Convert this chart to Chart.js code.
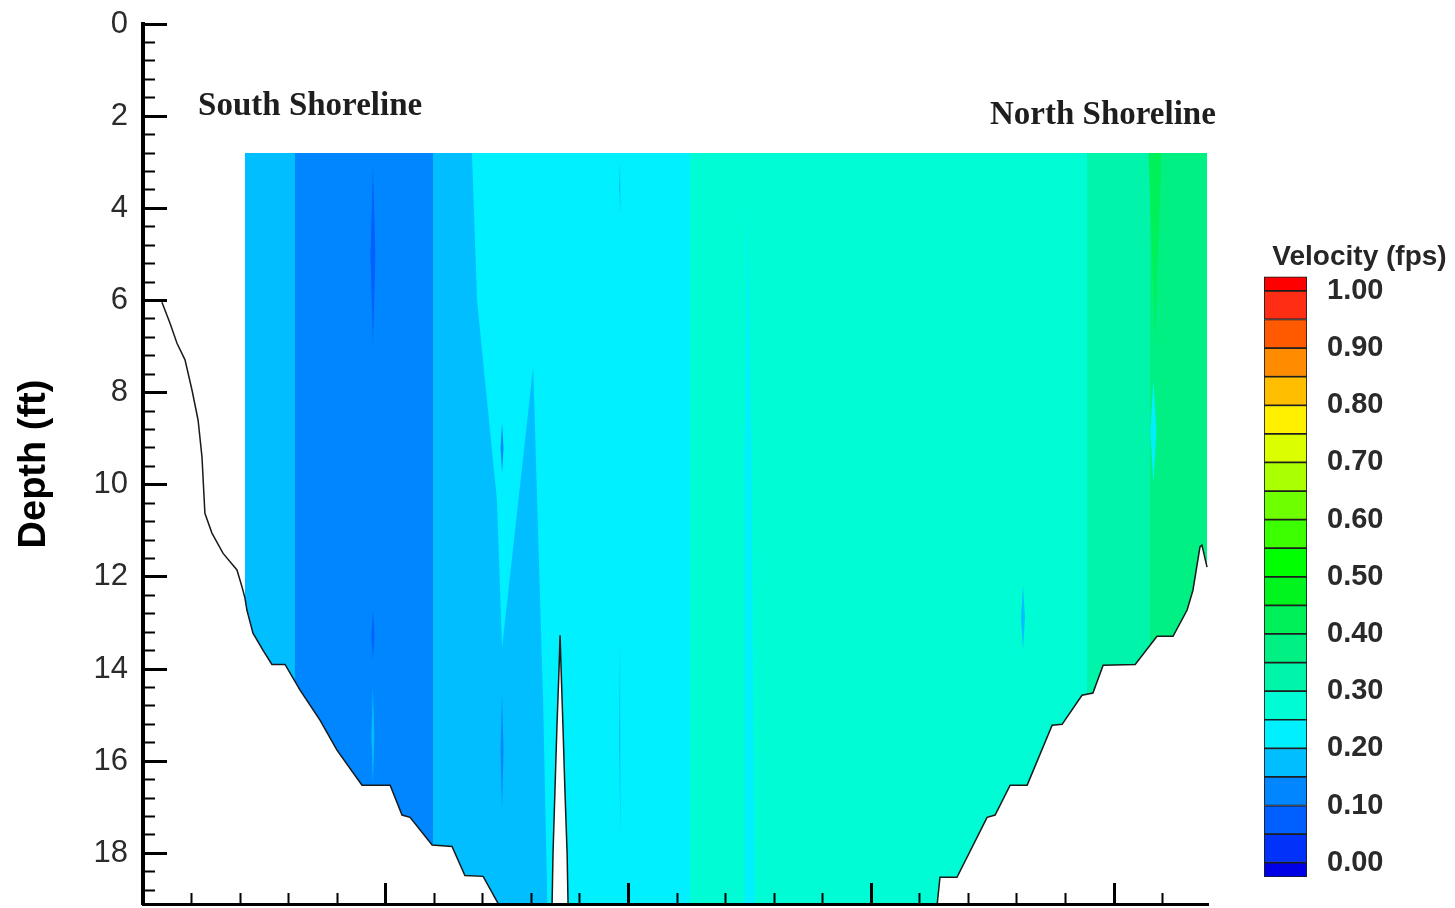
<!DOCTYPE html>
<html>
<head>
<meta charset="utf-8">
<script src="https://cdn.jsdelivr.net/npm/chart.js@4.4.1/dist/chart.umd.min.js"></script>
<style>
  html, body { margin: 0; padding: 0; background: #fff; overflow: hidden; }
  #wrap { position: relative; width: 1455px; height: 908px; }
  #section { position: absolute; left: 0; top: 0; }
  #colorbar { position: absolute; left: 1255px; top: 230px; }
</style>
</head>
<body>
<div id="wrap">
  <canvas id="section" width="1455" height="908"></canvas>
  <canvas id="colorbar" width="200" height="678"></canvas>
</div>
<script>
// axis extents (station in ft from the left axis, depth in ft)
const stationMax = 438.7;
const depthMax = 19.1;

// riverbed profile, south -> north
const bedStation = [7.8, 11.1, 14.0, 17.3, 20.2, 22.7, 24.3, 25.5, 28.4, 33.0,
  38.7, 40.8, 42.0, 42.8, 45.3, 49.4, 53.1, 58.5, 64.7, 72.9,
  79.9, 90.2, 101.8, 106.7, 110.0, 119.1, 127.3, 132.6, 140.1, 146.2, 151.2,
  167.7, 168.5, 168.9, 169.7, 170.5, 171.4, 171.8, 172.2, 173.0, 173.8, 174.7, 175.1, 175.9,
  324.2, 327.1, 328.3, 335.3, 347.7, 351.0, 357.2, 364.2, 374.5, 378.6,
  386.8, 391.3, 395.5, 408.7, 417.7, 424.3, 430.1, 432.5, 435.4, 436.2, 438.3];
const bedDepth = [6.04, 6.49, 6.93, 7.29, 7.95, 8.60, 9.40, 10.62, 11.05, 11.49,
  11.85, 12.22, 12.46, 12.72, 13.22, 13.59, 13.90, 13.90, 14.46, 15.11,
  15.76, 16.52, 16.52, 17.17, 17.22, 17.82, 17.85, 18.48, 18.50, 19.08, 19.70,
  19.70, 19.13, 18.00, 16.63, 15.26, 13.96, 13.27, 13.96, 15.26, 16.63, 18.00, 19.13, 19.70,
  19.70, 19.13, 18.52, 18.52, 17.22, 17.17, 16.52, 16.52, 15.22, 15.20,
  14.57, 14.52, 13.92, 13.90, 13.29, 13.29, 12.72, 12.29, 11.35, 11.31, 11.79];

// measured part of the section
const waterTop = 2.8;
const waterLeft = 42.0;
const waterRight = 438.3;
const groundFloor = 20;

// vertical velocity bands (fps)
const bandEdges = [42.0, 62.6, 119.5, 135.5, 225.3, 388.9, 414.8, 438.3];
const bandVelocity = [0.17, 0.12, 0.17, 0.22, 0.27, 0.32, 0.37];

// slower wedge near the middle
const wedgeStation = [135.5, 137.6, 145.8, 147.9, 160.7, 164.8, 166.8, 134.7];
const wedgeDepth = [2.80, 6.00, 10.33, 13.55, 7.45, 14.68, 19.70, 19.70];
const wedgeVelocity = 0.17;

// faster green streak near the north bank
const greenStation = [414.2, 419.6, 418.4, 416.9, 415.4];
const greenDepth = [2.80, 2.80, 4.60, 6.90, 4.60];
const greenVelocity = 0.42;

// lighter strip in the teal band
const stripStation = [249.0, 250.6, 252.0, 247.6, 247.9];
const stripDepth = [4.04, 9.25, 19.70, 19.70, 9.25];
const stripVelocity = 0.22;

// thin streaks
const streakStation = [94.7, 94.7, 94.7, 416.2, 196.5, 196.5, 362.5, 147.9, 147.9];
const streakTop = [3.06, 12.72, 14.39, 7.73, 2.95, 13.37, 12.18, 8.66, 14.52];
const streakBottom = [6.97, 13.81, 16.48, 9.97, 4.15, 17.72, 13.59, 9.75, 17.06];
const streakWidth = [2.0, 1.2, 1.2, 2.5, 0.8, 0.8, 1.6, 1.2, 1.2];
const streakVelocity = [0.07, 0.07, 0.17, 0.22, 0.17, 0.17, 0.17, 0.12, 0.12];

// bank labels
const shoreNames = ['South Shoreline', 'North Shoreline'];
const shoreStation = [22.7, 348.9];
const shoreDepth = [1.98, 2.16];

// colour key, bottom (below 0) to top (above 1)
const keyEdges = [-0.025, 0.00, 0.05, 0.10, 0.15, 0.20, 0.25, 0.30, 0.35, 0.40, 0.45,
  0.50, 0.55, 0.60, 0.65, 0.70, 0.75, 0.80, 0.85, 0.90, 0.95, 1.00, 1.025];
const keyColors = ['#0000e6', '#0032fa', '#005fff', '#0087ff', '#00beff', '#00f0ff',
  '#00fcd4', '#00f5aa', '#00f084', '#00f05a', '#00f51e', '#00ff00', '#3cff00',
  '#6eff00', '#aaff00', '#dcff00', '#fff000', '#ffbe00', '#ff8c00', '#ff5a00',
  '#ff2d14', '#ff0000'];

Chart.defaults.font.family = "'Liberation Sans', Arial, sans-serif";

const colourOf = v => keyColors[v < 0 ? 0 : v > 1 ? 21 : 1 + Math.min(19, Math.floor(v / 0.05))];
const pts = (xs, ys) => xs.map((s, i) => ({x: s, y: ys[i]}));

// hard-edged horizontal gradient for the vertical bands
function bandGradient(context) {
  const chart = context.chart;
  const x = chart.scales.x;
  if (!chart.chartArea || !x) return colourOf(bandVelocity[0]);
  const x0 = x.getPixelForValue(bandEdges[0]);
  const x1 = x.getPixelForValue(bandEdges[bandEdges.length - 1]);
  const g = chart.ctx.createLinearGradient(x0, 0, x1, 0);
  const at = s => Math.min(1, Math.max(0, (x.getPixelForValue(s) - x0) / (x1 - x0)));
  bandVelocity.forEach((v, i) => {
    g.addColorStop(at(bandEdges[i]), colourOf(v));
    g.addColorStop(at(bandEdges[i + 1]), colourOf(v));
  });
  return g;
}

function area(data, color, order) {
  return {
    data: data, showLine: true, fill: 'shape', backgroundColor: color,
    borderColor: 'rgba(0,0,0,0)', borderWidth: 0, pointRadius: 0, order: order
  };
}

const datasets = [];
datasets.push(area(pts([waterLeft, waterRight, waterRight, waterLeft],
  [waterTop, waterTop, groundFloor, groundFloor]), bandGradient, 10));
datasets.push(area(pts(wedgeStation, wedgeDepth), colourOf(wedgeVelocity), 7));
datasets.push(area(pts(greenStation, greenDepth), colourOf(greenVelocity), 6));
datasets.push(area(pts(stripStation, stripDepth), colourOf(stripVelocity), 6));
streakStation.forEach((c, i) => {
  const h = streakWidth[i] / 2;
  const m = (streakTop[i] + streakBottom[i]) / 2;
  datasets.push(area(pts([c, c + h, c, c - h], [streakTop[i], m, streakBottom[i], m]),
    colourOf(streakVelocity[i]), 5));
});

// ground below the whole bed hides whatever is under it
const groundPts = pts(bedStation, bedDepth);
groundPts.push({x: waterRight + 3, y: groundFloor}, {x: bedStation[0], y: groundFloor});
datasets.push(area(groundPts, '#ffffff', 2));

datasets.push({
  data: pts(bedStation, bedDepth), showLine: true, fill: false,
  borderColor: '#1a1a1a', borderWidth: 1.5, pointRadius: 0, order: 1
});

const shoreLabels = {
  id: 'shoreLabels',
  afterDatasetsDraw(chart) {
    const {ctx, scales: {x, y}} = chart;
    ctx.save();
    ctx.font = "bold 33px 'Liberation Serif', 'Times New Roman', serif";
    ctx.fillStyle = '#1e1e1e';
    ctx.textAlign = 'left';
    ctx.textBaseline = 'alphabetic';
    shoreNames.forEach((name, i) => {
      ctx.fillText(name, x.getPixelForValue(shoreStation[i]), y.getPixelForValue(shoreDepth[i]));
    });
    ctx.restore();
  }
};

new Chart('section', {
  type: 'scatter',
  data: {datasets: datasets},
  plugins: [shoreLabels],
  options: {
    responsive: false,
    animation: false,
    layout: {padding: {left: 0, top: 24, right: 247, bottom: 0}},
    plugins: {legend: {display: false}, tooltip: {enabled: false}},
    scales: {
      x: {
        type: 'linear', position: 'bottom', min: 0, max: stationMax, weight: 1,
        border: {display: true, color: '#000', width: 3, z: 2},
        grid: {drawOnChartArea: false, color: '#000', tickLength: -21, tickWidth: 3, z: 1},
        ticks: {display: false, stepSize: 100, maxTicksLimit: 100, includeBounds: false},
        afterFit: s => { s.height = 4; }
      },
      xMinor: {
        type: 'linear', position: 'bottom', min: 0, max: stationMax, weight: 0,
        border: {display: false},
        grid: {drawOnChartArea: false, color: '#000', tickLength: -11, tickWidth: 2, z: 1},
        ticks: {display: false, stepSize: 20, maxTicksLimit: 100, includeBounds: false},
        afterFit: s => { s.height = 0; }
      },
      y: {
        type: 'linear', position: 'left', reverse: true, min: 0, max: depthMax, weight: 1,
        border: {display: true, color: '#000', width: 4, z: 2},
        grid: {drawOnChartArea: false, color: '#000', tickLength: -24, tickWidth: 3, z: 1},
        ticks: {stepSize: 2, maxTicksLimit: 100, includeBounds: false, padding: 39,
                color: '#2b2b2b', font: {size: 31}},
        title: {display: true, text: 'Depth (ft)', color: '#000',
                font: {size: 38, weight: 'bold'}, padding: {top: 12, bottom: 0}},
        afterFit: s => { s.width = 143; s.paddingTop = 0; s.paddingBottom = 0; }
      },
      yMinor: {
        type: 'linear', position: 'left', reverse: true, min: 0, max: depthMax, weight: 0,
        border: {display: false},
        grid: {drawOnChartArea: false, color: '#000', tickLength: -12, tickWidth: 2, z: 1},
        ticks: {display: false, stepSize: 0.4, maxTicksLimit: 100, includeBounds: false},
        afterFit: s => { s.width = 0; }
      }
    }
  }
});

// colour key as floating bars
new Chart('colorbar', {
  type: 'bar',
  data: {
    labels: ['key'],
    datasets: keyColors.map((c, i) => ({
      data: [[keyEdges[i], keyEdges[i + 1]]],
      backgroundColor: c,
      borderColor: '#1e1e1e',
      borderWidth: 1.2,
      borderSkipped: false,
      grouped: false,
      barPercentage: 1,
      categoryPercentage: 1
    }))
  },
  options: {
    responsive: false,
    animation: false,
    layout: {padding: {left: 9, top: 0, right: 0, bottom: 31}},
    plugins: {
      legend: {display: false},
      tooltip: {enabled: false},
      title: {display: true, text: 'Velocity (fps)', color: '#262626',
              font: {size: 28, weight: 'bold'}, padding: {top: 10, bottom: 3}}
    },
    scales: {
      x: {display: false},
      y: {
        type: 'linear', position: 'right', min: -0.025, max: 1.025,
        grid: {display: false, drawTicks: false},
        border: {display: false},
        ticks: {stepSize: 0.1, maxTicksLimit: 100, includeBounds: false, padding: 20,
                color: '#2a2a2a', font: {size: 29, weight: 'bold'},
                callback: v => Number(v).toFixed(2)},
        afterFit: s => { s.width = 148; s.paddingTop = 0; s.paddingBottom = 0; }
      }
    }
  }
});
</script>
</body>
</html>
